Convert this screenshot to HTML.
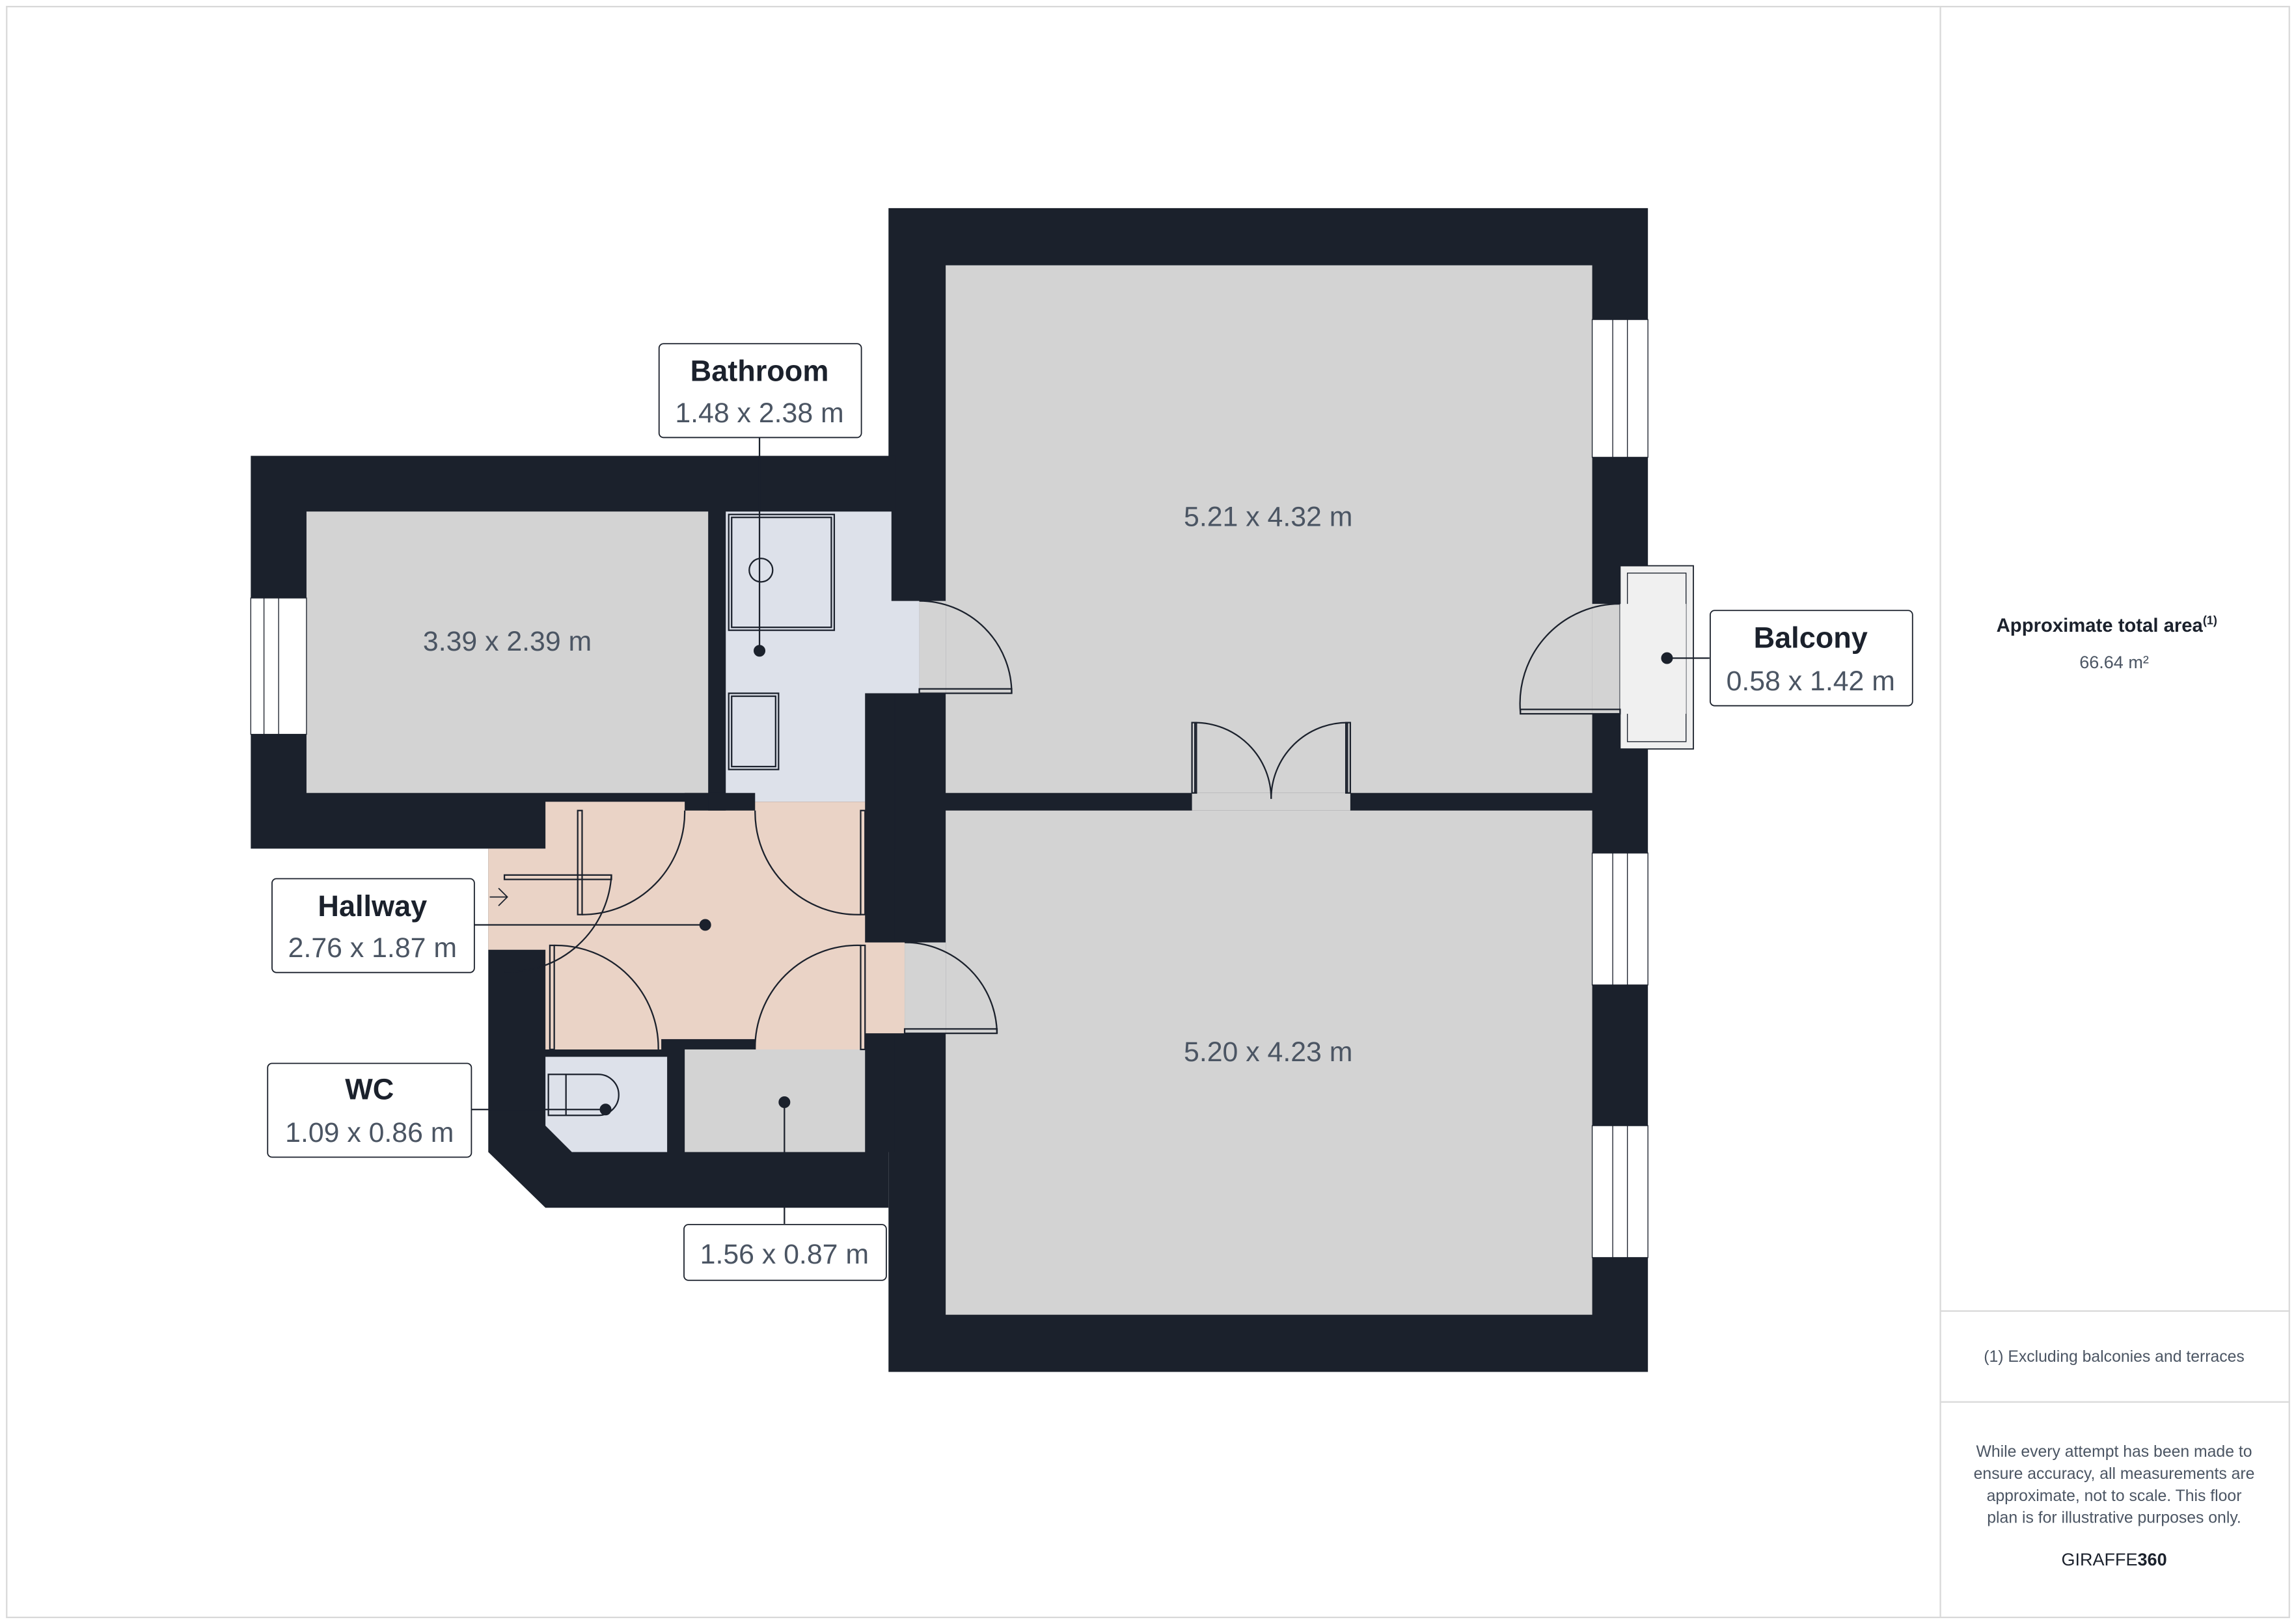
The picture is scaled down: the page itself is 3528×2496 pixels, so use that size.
<!DOCTYPE html>
<html><head><meta charset="utf-8">
<style>
html,body{margin:0;padding:0;background:#fff}
svg{display:block}
text{font-family:"Liberation Sans",sans-serif}
</style></head>
<body>
<svg width="3528" height="2496" viewBox="0 0 1566 1108" xmlns="http://www.w3.org/2000/svg">
<rect x="0" y="0" width="1566" height="1108" fill="#fff"/>
<rect x="4.5" y="4.5" width="1557" height="1099" fill="none" stroke="#d9d9d9" stroke-width="1"/>
<line x1="1323.5" y1="4" x2="1323.5" y2="1104" stroke="#d9d9d9"/>
<line x1="1323" y1="894.5" x2="1562" y2="894.5" stroke="#d9d9d9"/>
<line x1="1323" y1="956.5" x2="1562" y2="956.5" stroke="#d9d9d9"/>

<!-- walls (dark base) -->
<g fill="#1b212c">
<rect x="606" y="142" width="518" height="794"/>
<rect x="171" y="311" width="440" height="268"/>
<polygon points="333,579 606,579 606,824 372,824 333,786"/>
<rect x="590" y="473" width="20" height="313"/>
</g>

<!-- floors -->
<rect x="645" y="181" width="441" height="360" fill="#d3d3d3"/>
<rect x="645" y="553" width="441" height="344" fill="#d3d3d3"/>
<rect x="209" y="349" width="274" height="192" fill="#d3d3d3"/>
<!-- bathroom -->
<polygon points="495,349 608,349 608,410 627,410 627,473 590,473 590,547 495,547" fill="#dde1ea"/>
<rect x="627" y="410" width="18" height="63" fill="#d3d3d3"/>
<!-- hallway -->
<polygon points="372,547 590,547 590,643 617,643 617,705 590,705 590,716 515,716 515,709 451,709 451,716 372,716 372,648 333,648 333,579 372,579" fill="#ead3c6"/>
<rect x="467" y="541" width="48" height="12" fill="#1b212c"/>
<rect x="483" y="541" width="12" height="12" fill="#1b212c"/>
<rect x="617" y="643" width="28" height="62" fill="#d3d3d3"/>
<!-- WC -->
<polygon points="372,721 455,721 455,786 390,786 372,768" fill="#dde1ea"/>
<!-- cupboard -->
<rect x="467" y="716" width="123" height="70" fill="#d3d3d3"/>
<!-- double door opening -->
<rect x="813" y="541" width="108" height="12" fill="#d3d3d3"/>

<!-- windows -->
<g fill="#fff" stroke="#1b212c" stroke-width="0.6">
<rect x="171" y="408" width="38" height="93"/>
<rect x="180" y="408" width="10" height="93"/>
<rect x="1086" y="218" width="38" height="94"/>
<rect x="1100" y="218" width="10" height="94"/>
<rect x="1086" y="582" width="38" height="90"/>
<rect x="1100" y="582" width="10" height="90"/>
<rect x="1086" y="768" width="38" height="90"/>
<rect x="1100" y="768" width="10" height="90"/>
</g>
<!-- balcony -->
<rect x="1086" y="412" width="38" height="75" fill="#d3d3d3"/>
<rect x="1105" y="386" width="50" height="125" fill="#f0f0f0" stroke="#1b212c" stroke-width="0.8"/>
<rect x="1110" y="391" width="40" height="115" fill="none" stroke="#1b212c" stroke-width="0.6"/>
<rect x="1105" y="412" width="45" height="75" fill="#f0f0f0"/>

<!-- doors -->
<g fill="none" stroke="#1b212c" stroke-width="1">
<path d="M627,410 A63,63 0 0 1 690,473"/><rect x="627" y="470" width="63" height="3"/>
<path d="M617,643 A63,63 0 0 1 680,705"/><rect x="617" y="702" width="63" height="3"/>
<path d="M1105,412 A68,68 0 0 0 1037,486"/><rect x="1037" y="484" width="68" height="3"/>
<path d="M815,541 L815,493 A52,52 0 0 1 867,545"/><path d="M919,541 L919,493 A52,52 0 0 0 867,545"/>
<rect x="813" y="493" width="3" height="48"/><rect x="918" y="493" width="3" height="48"/>
<path d="M467,553 A70,70 0 0 1 397,624"/><rect x="394" y="553" width="3" height="71"/>
<path d="M515,553 A70,70 0 0 0 587,624"/><rect x="587" y="553" width="3" height="71"/>
<path d="M515,716 A70,70 0 0 1 587,645"/><rect x="587" y="645" width="3" height="71"/>
<path d="M449,716 A70,70 0 0 0 378,645"/><rect x="375" y="645" width="3" height="71"/>
<path d="M417,597 A70,70 0 0 1 344,663"/><rect x="344" y="597" width="73" height="3"/>
<path d="M334,612 L346,612 M340,606 L346,612 L340,618" stroke-width="0.8"/>
<rect x="497" y="351" width="72" height="79"/><rect x="499" y="353" width="68" height="75"/>
<circle cx="519" cy="389" r="8"/>
<rect x="497" y="473" width="34" height="52"/><rect x="499" y="475" width="30" height="48"/>
<path d="M374,733 L408,733 A14,14 0 0 1 408,761 L374,761 Z"/><line x1="386" y1="733" x2="386" y2="761"/>
</g>

<!-- leader lines & dots -->
<g stroke="#1b212c" stroke-width="1" fill="#1b212c">
<line x1="518" y1="298" x2="518" y2="444"/><circle cx="518" cy="444" r="3.5"/>
<line x1="323" y1="631" x2="481" y2="631"/><circle cx="481" cy="631" r="3.5"/>
<line x1="321" y1="757" x2="413" y2="757"/><circle cx="413" cy="757" r="3.5"/>
<line x1="535" y1="752" x2="535" y2="835"/><circle cx="535" cy="752" r="3.5"/>
<line x1="1137" y1="449" x2="1166" y2="449"/><circle cx="1137" cy="449" r="3.5"/>
</g>

<g font-size="19" fill="#4b5563" text-anchor="middle">
<text x="865" y="359">5.21 x 4.32 m</text>
<text x="865" y="724">5.20 x 4.23 m</text>
<text x="346" y="444">3.39 x 2.39 m</text>
</g>

<g fill="#fff" stroke="#1b212c" stroke-width="0.8">
<rect x="449.5" y="234.5" width="138" height="64" rx="3"/>
<rect x="185.5" y="599.5" width="138" height="64" rx="3"/>
<rect x="182.5" y="725.5" width="139" height="64" rx="3"/>
<rect x="466.5" y="835.5" width="138" height="38" rx="3"/>
<rect x="1166.5" y="416.5" width="138" height="65" rx="3"/>
</g>
<g text-anchor="middle">
<text x="518" y="260" font-size="20" font-weight="bold" fill="#1b212c">Bathroom</text>
<text x="518" y="288" font-size="19" fill="#4b5563">1.48 x 2.38 m</text>
<text x="254" y="625" font-size="20" font-weight="bold" fill="#1b212c">Hallway</text>
<text x="254" y="653" font-size="19" fill="#4b5563">2.76 x 1.87 m</text>
<text x="252" y="750" font-size="20" font-weight="bold" fill="#1b212c">WC</text>
<text x="252" y="779" font-size="19" fill="#4b5563">1.09 x 0.86 m</text>
<text x="535" y="862" font-size="19" fill="#4b5563">1.56 x 0.87 m</text>
<text x="1235" y="442" font-size="20" font-weight="bold" fill="#1b212c">Balcony</text>
<text x="1235" y="471" font-size="19" fill="#4b5563">0.58 x 1.42 m</text>
</g>

<g text-anchor="middle">
<text x="1437" y="431" font-size="13" font-weight="bold" fill="#1b212c">Approximate total area<tspan font-size="8" dy="-5">(1)</tspan></text>
<text x="1442" y="456" font-size="12" fill="#4b5563">66.64 m²</text>
<text x="1442" y="929" font-size="11" fill="#4b5563">(1) Excluding balconies and terraces</text>
<text x="1442" y="994" font-size="11" fill="#4b5563">While every attempt has been made to</text>
<text x="1442" y="1009" font-size="11" fill="#4b5563">ensure accuracy, all measurements are</text>
<text x="1442" y="1024" font-size="11" fill="#4b5563">approximate, not to scale. This floor</text>
<text x="1442" y="1039" font-size="11" fill="#4b5563">plan is for illustrative purposes only.</text>
<text x="1442" y="1068" font-size="12" fill="#1b212c">GIRAFFE<tspan font-weight="bold">360</tspan></text>
</g>
</svg>
</body></html>
